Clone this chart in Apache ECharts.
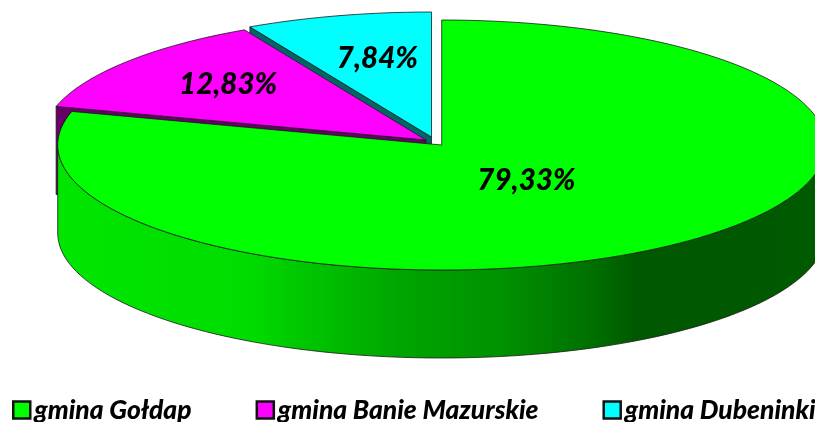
<!DOCTYPE html>
<html>
<head>
<meta charset="utf-8">
<style>
  html, body { margin: 0; padding: 0; background: #fff; }
  #chart { width: 815px; height: 422px; }
</style>
</head>
<body>
<div id="chart"></div>
<script src="https://cdn.jsdelivr.net/npm/echarts@6/dist/echarts.min.js"></script>
<script>
const categories = ["gmina Gołdap", "gmina Banie Mazurskie", "gmina Dubeninki"];
const shares = [79.33, 12.83, 7.84];
const topColors = ["#00ff00", "#ff00ff", "#00ffff"];
const wallColors = ["#006000", "#660066", "#006666"];

// ellipse of the tilted pie
const RX = 384, RY = 125, DEPTH = 88;
// exploded centre of every slice, same order as categories
const centers = [[441.7, 145], [426, 140], [431.5, 137]];
// label position as a fraction of the way to the rim at the slice's middle
const labelAt = [[0.365, 0.36], [0.66, 0.705], [0.578, 0.645]];
const FONT = "Lato, Carlito, 'Open Sans', sans-serif";
const LINE = "#1a1a1a";

const total = shares.reduce((a, b) => a + b, 0);
// slices run clockwise from 12 o'clock
function sliceAngles(i) {
  let start = 0;
  for (let k = 0; k < i; k++) start += shares[k] / total * 360;
  return [start, start + shares[i] / total * 360];
}
function onRim(c, deg, dy) {
  const a = deg * Math.PI / 180;
  return [c[0] + RX * Math.sin(a), c[1] - RY * Math.cos(a) + (dy || 0)];
}
function arc(c, from, to, dy) {
  const pts = [];
  const n = Math.max(2, Math.ceil(Math.abs(to - from) / 2));
  for (let k = 0; k <= n; k++) pts.push(onRim(c, from + (to - from) * k / n, dy));
  return pts;
}
function poly(points, fill) {
  return {
    type: "polygon",
    shape: { points },
    style: { fill, stroke: LINE, lineWidth: 0.8 }
  };
}

function wallFill(i) {
  if (i !== 0) return wallColors[i];
  return new echarts.graphic.LinearGradient(0, 0, 1, 0, [
    { offset: 0, color: "#00e600" },
    { offset: 0.25, color: "#00dc00" },
    { offset: 0.315, color: "#00c800" },
    { offset: 0.446, color: "#00a500" },
    { offset: 0.576, color: "#009200" },
    { offset: 0.707, color: "#006c00" },
    { offset: 0.752, color: "#005800" },
    { offset: 1, color: "#005a00" }
  ]);
}

function renderSlice(i) {
  return function (params, api) {
    const value = api.value(0);
    const c = centers[i];
    const [a0, a1] = sliceAngles(i);
    const kids = [];
    // cut face along the slice's first edge, seen when that edge is on the left
    if (a0 > 180) {
      const edge = onRim(c, a0);
      kids.push(poly([c, edge, [edge[0], edge[1] + DEPTH], [c[0], c[1] + DEPTH]], wallColors[i]));
    }
    // outer wall, only the part that faces the viewer
    const w0 = Math.max(a0, 90), w1 = Math.min(a1, 270);
    if (w1 > w0) {
      kids.push(poly(arc(c, w0, w1).concat(arc(c, w1, w0, DEPTH)), wallFill(i)));
    }
    // top face
    kids.push(poly([c].concat(arc(c, a0, a1)), topColors[i]));
    const mid = onRim(c, (a0 + a1) / 2);
    kids.push({
      type: "text",
      style: {
        x: c[0] + (mid[0] - c[0]) * labelAt[i][0],
        y: c[1] + (mid[1] - c[1]) * labelAt[i][1],
        text: value.toFixed(2).replace(".", ",") + "%",
        fill: "#000",
        font: "italic 900 29.5px " + FONT,
        align: "center",
        verticalAlign: "middle"
      }
    });
    return { type: "group", children: kids };
  };
}

// painted back to front: the big slice covers the cut faces of the others
const drawOrder = [2, 1, 0];
const series = drawOrder.map((i) => ({
  type: "custom",
  name: categories[i],
  coordinateSystem: "none",
  itemStyle: { color: topColors[i] },
  silent: true,
  data: [[shares[i]]],
  renderItem: renderSlice(i)
}));

const chart = echarts.init(document.getElementById("chart"), null, { renderer: "canvas" });
chart.setOption({
  animation: false,
  backgroundColor: "#fff",
  legend: {
    data: categories.map((name, i) => ({
      name,
      icon: "rect",
      itemStyle: { color: topColors[i], borderColor: "#111", borderWidth: 2.5 }
    })),
    left: 12,
    top: 397,
    width: 860,
    padding: 0,
    itemWidth: 17,
    itemHeight: 17,
    itemGap: 64,
    textStyle: {
      color: "#000",
      fontFamily: FONT,
      fontStyle: "italic",
      fontWeight: 900,
      fontSize: 26.4,
      padding: [0, 0, 0, -1]
    }
  },
  series
});
</script>
</body>
</html>
